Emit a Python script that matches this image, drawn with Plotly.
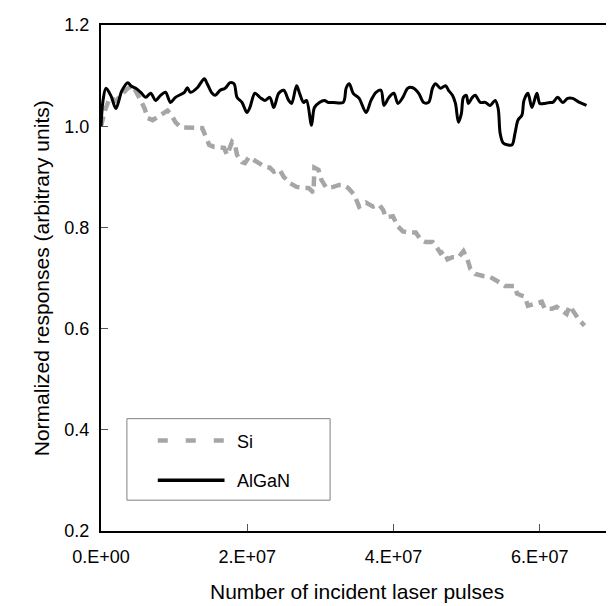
import plotly.graph_objects as go

# ---------------- data ----------------
# AlGaN detector response: x in units of 1e7 laser pulses, y normalized
algan_x_e7 = [
    0.000, 0.027, 0.068, 0.136, 0.204, 0.285, 0.367, 0.407, 0.475, 0.543,
    0.611, 0.679, 0.747, 0.814, 0.882, 0.950, 1.018, 1.140, 1.181, 1.222,
    1.317, 1.412, 1.452, 1.520, 1.561, 1.629, 1.697, 1.765, 1.819, 1.860,
    1.928, 1.995, 2.036, 2.104, 2.172, 2.240, 2.308, 2.362, 2.430, 2.498,
    2.566, 2.606, 2.674, 2.715, 2.769, 2.810, 2.878, 2.918, 2.986, 3.054,
    3.108, 3.176, 3.312, 3.353, 3.394, 3.448, 3.529, 3.624, 3.692, 3.760,
    3.828, 3.869, 3.937, 4.004, 4.059, 4.127, 4.194, 4.262, 4.344, 4.412,
    4.479, 4.534, 4.575, 4.642, 4.710, 4.751, 4.805, 4.846, 4.887, 4.927,
    4.955, 4.995, 5.022, 5.077, 5.117, 5.185, 5.253, 5.321, 5.389, 5.430,
    5.457, 5.498, 5.565, 5.620, 5.660, 5.701, 5.755, 5.783, 5.837, 5.891,
    5.959, 6.000, 6.068, 6.135, 6.176, 6.244, 6.312, 6.380, 6.448, 6.543,
    6.638]
algan_y = [
    1.000, 1.050, 1.075, 1.060, 1.035, 1.070, 1.086, 1.080, 1.075, 1.067,
    1.057, 1.065, 1.051, 1.061, 1.067, 1.047, 1.057, 1.067, 1.076, 1.067,
    1.076, 1.094, 1.084, 1.065, 1.061, 1.071, 1.075, 1.086, 1.084, 1.057,
    1.047, 1.027, 1.037, 1.065, 1.057, 1.051, 1.057, 1.037, 1.065, 1.071,
    1.051, 1.045, 1.080, 1.065, 1.047, 1.051, 1.002, 1.037, 1.047, 1.051,
    1.047, 1.047, 1.047, 1.076, 1.084, 1.065, 1.055, 1.027, 1.051, 1.067,
    1.071, 1.041, 1.057, 1.065, 1.045, 1.057, 1.075, 1.076, 1.065, 1.047,
    1.047, 1.076, 1.084, 1.075, 1.080, 1.071, 1.061, 1.045, 1.008, 1.025,
    1.057, 1.061, 1.045, 1.057, 1.061, 1.047, 1.047, 1.041, 1.051, 1.035,
    0.986, 0.967, 0.963, 0.963, 0.986, 1.012, 1.022, 1.051, 1.065, 1.037,
    1.065, 1.045, 1.045, 1.047, 1.047, 1.057, 1.047, 1.055, 1.055, 1.047,
    1.041]

# Si detector response
si_x_e7 = [
    0.000, 0.054, 0.122, 0.204, 0.299, 0.367, 0.434, 0.475, 0.529, 0.597,
    0.638, 0.706, 0.774, 0.842, 0.909, 0.950, 1.018, 1.086, 1.181, 1.249,
    1.385, 1.425, 1.480, 1.547, 1.615, 1.683, 1.724, 1.792, 1.833, 1.860,
    1.928, 1.968, 2.023, 2.090, 2.172, 2.240, 2.308, 2.362, 2.443, 2.498,
    2.579, 2.674, 2.783, 2.837, 2.905, 2.918, 2.973, 3.013, 3.081, 3.176,
    3.258, 3.312, 3.380, 3.461, 3.529, 3.624, 3.719, 3.801, 3.855, 3.896,
    3.991, 4.059, 4.127, 4.208, 4.303, 4.371, 4.439, 4.534, 4.575, 4.642,
    4.683, 4.737, 4.805, 4.887, 4.955, 5.009, 5.050, 5.117, 5.226, 5.321,
    5.416, 5.525, 5.660, 5.688, 5.755, 5.796, 5.837, 5.932, 6.027, 6.068,
    6.163, 6.230, 6.298, 6.366, 6.407, 6.475, 6.543, 6.611]
si_y = [
    1.000, 1.031, 1.057, 1.050, 1.065, 1.075, 1.080, 1.067, 1.055, 1.035,
    1.016, 1.012, 1.018, 1.025, 1.031, 1.025, 1.008, 0.998, 0.998, 0.996,
    0.996, 0.982, 0.963, 0.959, 0.959, 0.957, 0.943, 0.969, 0.963, 0.943,
    0.929, 0.927, 0.939, 0.933, 0.924, 0.920, 0.918, 0.910, 0.914, 0.900,
    0.888, 0.880, 0.878, 0.878, 0.869, 0.918, 0.914, 0.894, 0.878, 0.880,
    0.884, 0.884, 0.878, 0.865, 0.841, 0.849, 0.841, 0.845, 0.835, 0.820,
    0.822, 0.802, 0.792, 0.790, 0.790, 0.776, 0.771, 0.771, 0.764, 0.749,
    0.753, 0.737, 0.741, 0.741, 0.753, 0.737, 0.718, 0.708, 0.704, 0.702,
    0.694, 0.684, 0.684, 0.669, 0.665, 0.663, 0.645, 0.649, 0.653, 0.639,
    0.639, 0.643, 0.635, 0.629, 0.645, 0.629, 0.616, 0.606]

x_tick_vals = [0, 2e7, 4e7, 6e7]
x_tick_text = ["0.E+00", "2.E+07", "4.E+07", "6.E+07"]
y_tick_vals = [0.2, 0.4, 0.6, 0.8, 1.0, 1.2]
series_names = ["Si", "AlGaN"]
x_title = "Number of incident laser pulses"
y_title = "Normalized responses (arbitrary units)"

algan_x = [v * 1e7 for v in algan_x_e7]
si_x = [v * 1e7 for v in si_x_e7]

# ---------------- layout geometry (pixels) ----------------
W, H = 614, 606
L, R, T, B = 93, 607, 14, 523
PW, PH = R - L, B - T


def px(xp):
    return (xp - L) / PW


def py(yp):
    return (B - yp) / PH


FONT = "Liberation Sans, Arial, sans-serif"
SI_COLOR = "#A6A6A6"

fig = go.Figure()
fig.add_trace(go.Scatter(x=si_x, y=si_y, mode="lines", name=series_names[0],
                         line=dict(color=SI_COLOR, width=4.5, dash="10px,6px"),
                         showlegend=False))
fig.add_trace(go.Scatter(x=algan_x, y=algan_y, mode="lines", name=series_names[1],
                         line=dict(color="black", width=3, shape="spline", smoothing=0.9),
                         showlegend=False))

axis_common = dict(showgrid=False, zeroline=False, showline=True, linecolor="black",
                   linewidth=2, mirror=True, ticks="inside", ticklen=7, tickwidth=1,
                   tickcolor="#555555", tickfont=dict(family=FONT, size=18, color="black"))

fig.update_xaxes(range=[0, 7e7], tickvals=x_tick_vals, ticktext=x_tick_text,
                 ticklabelstandoff=8, **axis_common)
fig.update_yaxes(range=[0.2, 1.2], tickvals=y_tick_vals, tickformat=".1f",
                 ticklabelstandoff=6, **axis_common)

# legend drawn as a box with line samples
shapes = [
    dict(type="rect", xref="paper", yref="paper", x0=px(119), x1=px(323), y0=py(492), y1=py(410),
         line=dict(color="#808080", width=1), fillcolor="white", layer="above"),
    dict(type="line", xref="paper", yref="paper", x0=px(150), x1=px(217), y0=py(432), y1=py(432),
         line=dict(color=SI_COLOR, width=4.5, dash="10px,18px"), layer="above"),
    dict(type="line", xref="paper", yref="paper", x0=px(150), x1=px(217), y0=py(472), y1=py(472),
         line=dict(color="black", width=3.5), layer="above"),
]
annotations = [
    dict(text=series_names[0], xref="paper", yref="paper", x=px(228), y=py(433),
         xanchor="left", yanchor="middle", showarrow=False,
         font=dict(family=FONT, size=18, color="black")),
    dict(text=series_names[1], xref="paper", yref="paper", x=px(228), y=py(473),
         xanchor="left", yanchor="middle", showarrow=False,
         font=dict(family=FONT, size=18, color="black")),
    dict(text=x_title, xref="paper", yref="paper",
         x=0.5, y=py(584), xanchor="center", yanchor="middle", showarrow=False,
         font=dict(family=FONT, size=21, color="black")),
    dict(text=y_title, xref="paper", yref="paper",
         x=px(33), y=0.5, xanchor="center", yanchor="middle", showarrow=False,
         textangle=-90, font=dict(family=FONT, size=21, color="black")),
]

fig.update_layout(width=W, height=H, margin=dict(l=L, r=W - R, t=T, b=H - B),
                  paper_bgcolor="white", plot_bgcolor="white",
                  shapes=shapes, annotations=annotations, showlegend=False)

fig.write_html("out.html")
